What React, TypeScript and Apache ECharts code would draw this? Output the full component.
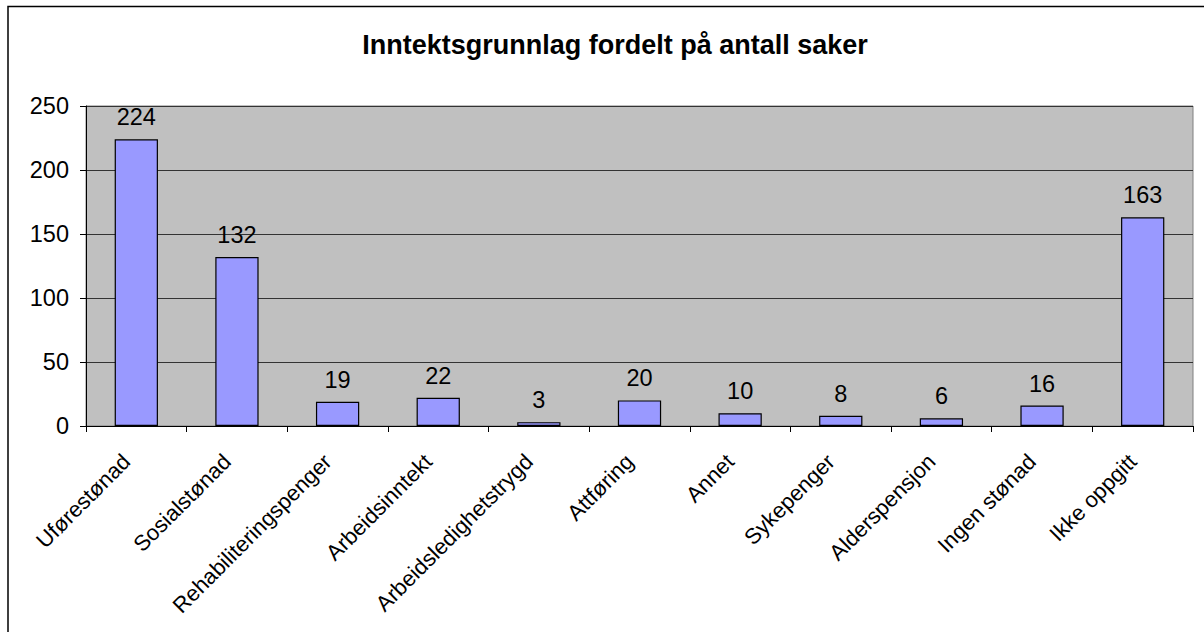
import React, { useEffect, useRef } from "react";
import * as echarts from "echarts";

const TITLE = "Inntektsgrunnlag fordelt på antall saker";
const categories = [
  "Uførestønad",
  "Sosialstønad",
  "Rehabiliteringspenger",
  "Arbeidsinntekt",
  "Arbeidsledighetstrygd",
  "Attføring",
  "Annet",
  "Sykepenger",
  "Alderspensjon",
  "Ingen stønad",
  "Ikke oppgitt",
];
const values = [224, 132, 19, 22, 3, 20, 10, 8, 6, 16, 163];
const yMin = 0;
const yMax = 250;
const yStep = 50;

const FONT = "'Liberation Sans', Arial, sans-serif";

export default function App() {
  const ref = useRef<HTMLDivElement>(null);
  useEffect(() => {
    if (!ref.current) return;
    const chart = echarts.init(ref.current, null, { renderer: "svg" });
    chart.setOption({
      animation: false,
      backgroundColor: "#ffffff",
      title: {
        text: TITLE,
        left: 610,
        textAlign: "center",
        top: 26,
        textStyle: {
          fontFamily: FONT,
          fontWeight: "bold",
          fontSize: 27,
          color: "#000",
        },
      },
      graphic: [
        {
          type: "polyline",
          shape: { points: [[8, 640], [8, 6.5], [1220, 6.5]] },
          style: { fill: "none", stroke: "#000", lineWidth: 1.5 },
          silent: true,
        },
      ],
      grid: {
        left: 86,
        top: 106,
        right: 11,
        bottom: 206,
        show: true,
        backgroundColor: "#C0C0C0",
        borderColor: "#808080",
        borderWidth: 1,
      },
      xAxis: {
        type: "category",
        data: categories,
        axisLine: { lineStyle: { color: "#000", width: 1 } },
        axisTick: { show: true, length: 6, lineStyle: { color: "#000" } },
        axisLabel: {
          rotate: 45,
          interval: 0,
          margin: 22,
          padding: [0, 14, 0, 0],
          fontFamily: FONT,
          fontSize: 22,
          color: "#000",
        },
      },
      yAxis: {
        type: "value",
        min: yMin,
        max: yMax,
        interval: yStep,
        axisLine: { show: true, lineStyle: { color: "#000", width: 1 } },
        axisTick: { show: true, length: 6, lineStyle: { color: "#000" } },
        axisLabel: {
          margin: 17,
          fontFamily: FONT,
          fontSize: 23.5,
          color: "#000",
        },
        splitLine: { show: true, lineStyle: { color: "#333", width: 1 } },
      },
      series: [
        {
          type: "bar",
          data: values,
          barWidth: "43%",
          itemStyle: { color: "#9999FF", borderColor: "#000", borderWidth: 1.2 },
          label: {
            show: true,
            position: "top",
            distance: 10,
            fontFamily: FONT,
            fontSize: 23.5,
            color: "#000",
          },
        },
      ],
    });
    return () => chart.dispose();
  }, []);
  return (
    <div
      ref={ref}
      style={{ position: "fixed", left: 0, top: 0, width: 1204, height: 632 }}
    />
  );
}
